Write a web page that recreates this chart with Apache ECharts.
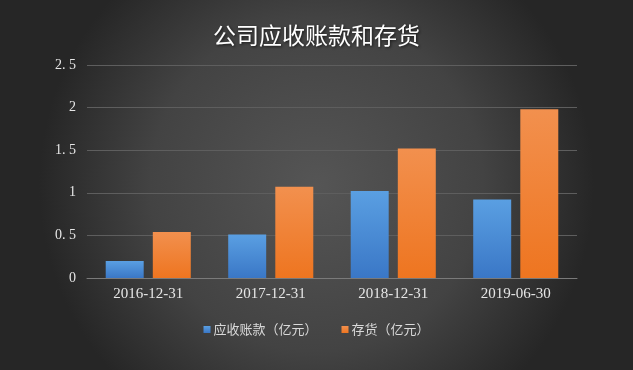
<!DOCTYPE html>
<html>
<head>
<meta charset="utf-8">
<script src="https://cdn.jsdelivr.net/npm/echarts@6/dist/echarts.min.js"></script>
<style>
html,body{margin:0;padding:0;}
#c{width:633px;height:370px;}
</style>
</head>
<body>
<div id="c"></div>
<script>
const title = '公司应收账款和存货';
const categories = ['2016-12-31', '2017-12-31', '2018-12-31', '2019-06-30'];
const receivables = [0.20, 0.51, 1.02, 0.92];
const inventory = [0.54, 1.07, 1.52, 1.98];
const seriesNames = ['应收账款（亿元）', '存货（亿元）'];

const chart = echarts.init(document.getElementById('c'));
const serif = '"Liberation Serif", "DejaVu Serif", serif';
chart.setOption({
  backgroundColor: {
    type: 'radial', x: 0.5, y: 0.5, r: 0.75,
    colorStops: [
      {offset: 0, color: '#555555'},
      {offset: 0.6, color: '#434343'},
      {offset: 1, color: '#262626'}
    ]
  },
  title: {
    text: title,
    left: 'center',
    top: 19,
    textStyle: {
      color: '#ffffff',
      fontSize: 23,
      fontWeight: 'normal',
      fontFamily: '"Noto Sans CJK SC", sans-serif',
      textShadowColor: 'rgba(0,0,0,0.7)',
      textShadowBlur: 3,
      textShadowOffsetX: 1,
      textShadowOffsetY: 1
    }
  },
  legend: {
    bottom: 29,
    left: 'center',
    icon: 'rect',
    itemWidth: 7,
    itemHeight: 7,
    itemGap: 24,
    itemStyle: {borderWidth: 0},
    textStyle: {color: '#d9d9d9', fontSize: 13, fontFamily: '"Noto Sans CJK SC", sans-serif', padding: [0, 0, 0, -2]},
    data: seriesNames
  },
  grid: {left: 87, right: 56, top: 65, bottom: 92, containLabel: false},
  xAxis: {
    type: 'category',
    data: categories,
    axisLine: {lineStyle: {color: '#7a7a7a', width: 1}},
    axisTick: {show: false},
    axisLabel: {color: '#e6e6e6', fontSize: 15, fontFamily: serif, margin: 9}
  },
  yAxis: {
    type: 'value',
    min: 0, max: 2.5, interval: 0.5,
    axisLine: {show: false},
    axisTick: {show: false},
    splitLine: {lineStyle: {color: '#5e5e5e', width: 1}},
    axisLabel: {
      color: '#e6e6e6', fontSize: 14, fontFamily: serif, margin: 11,
      formatter: v => String(v).replace('.', '. ')
    }
  },
  series: [
    {
      name: seriesNames[0], type: 'bar', data: receivables,
      barWidth: '31%', barGap: '24%',
      itemStyle: {color: {type: 'linear', x: 0, y: 0, x2: 0, y2: 1,
        colorStops: [{offset: 0, color: '#5a9fe2'}, {offset: 1, color: '#3a77c6'}]}}
    },
    {
      name: seriesNames[1], type: 'bar', data: inventory,
      barWidth: '31%',
      itemStyle: {color: {type: 'linear', x: 0, y: 0, x2: 0, y2: 1,
        colorStops: [{offset: 0, color: '#f2904e'}, {offset: 1, color: '#ee7520'}]}}
    }
  ]
});
</script>
</body>
</html>
